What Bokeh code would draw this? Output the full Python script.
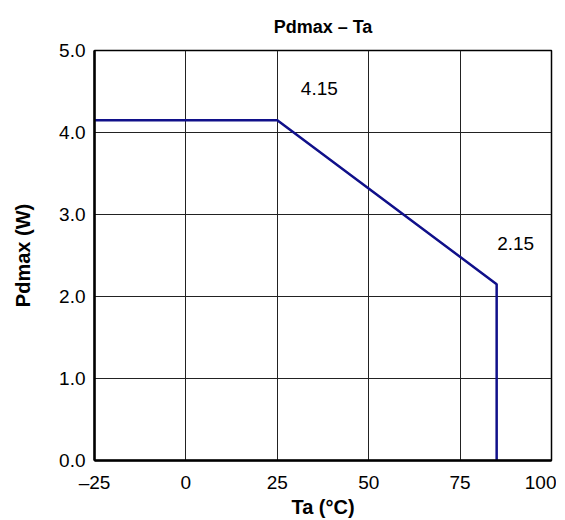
from bokeh.plotting import figure
from bokeh.models import FixedTicker, Range1d
from bokeh.core.properties import value
from bokeh.embed import file_html
from bokeh.resources import INLINE

# data
ta = [-25, 25, 85, 85]
pdmax = [4.15, 4.15, 2.15, 0.0]
x_ticks = [-25, 0, 25, 50, 75, 100]
x_tick_labels = ["\u201325", "0", "25", "50", "75", "100"]
y_ticks = [0, 1, 2, 3, 4, 5]
y_tick_labels = ["0.0", "1.0", "2.0", "3.0", "4.0", "5.0"]
ann_x = [36.5, 90.2]
ann_y = [4.54, 2.65]
ann_text = ["4.15", "2.15"]

FONT = "Liberation Sans"

p = figure(width=556, height=520, output_backend="svg", toolbar_location=None,
           x_range=Range1d(-25, 100), y_range=Range1d(0, 5),
           min_border_left=94, min_border_right=5, min_border_top=49, min_border_bottom=40)

p.title.text = "Pdmax \u2013 Ta"
p.title.align = "center"
p.title.text_font = FONT
p.title.text_font_size = "18px"
p.title.text_font_style = "bold"
p.title.text_color = "black"
p.title.standoff = 28

p.line(ta, pdmax, line_color="#10108a", line_width=2.5)
p.text(ann_x, ann_y, text=ann_text, text_font=value(FONT), text_font_size="19px",
       text_align="center", text_baseline="middle", text_color="black")

for ax, ticks, labels in ((p.xaxis[0], x_ticks, x_tick_labels), (p.yaxis[0], y_ticks, y_tick_labels)):
    ax.ticker = FixedTicker(ticks=ticks)
    ax.major_label_overrides = {t: l for t, l in zip(ticks, labels)}
    ax.minor_tick_line_color = None
    ax.major_tick_out = 0
    ax.major_tick_in = 0
    ax.axis_line_width = 2.5
    ax.axis_line_color = "black"
    ax.major_label_text_font = FONT
    ax.major_label_text_font_size = "19px"
    ax.major_label_text_color = "black"
    ax.axis_label_text_font = FONT
    ax.axis_label_text_font_size = "20px"
    ax.axis_label_text_font_style = "bold"
    ax.axis_label_text_color = "black"

p.xaxis.axis_label = "Ta (\u00b0C)"
p.yaxis.axis_label = "Pdmax (W)"
p.xaxis.major_label_standoff = 11
p.yaxis.major_label_standoff = 9
p.xaxis.axis_label_standoff = 0
p.yaxis.axis_label_standoff = 22

p.xgrid.ticker = FixedTicker(ticks=x_ticks)
p.ygrid.ticker = FixedTicker(ticks=y_ticks)
for g in (p.xgrid[0], p.ygrid[0]):
    g.grid_line_color = "#222222"
    g.grid_line_alpha = 1.0
    g.grid_line_width = 1

p.outline_line_color = "black"
p.outline_line_width = 1.5
p.outline_line_alpha = 1.0

open("out.html", "w").write(file_html(p, INLINE))
